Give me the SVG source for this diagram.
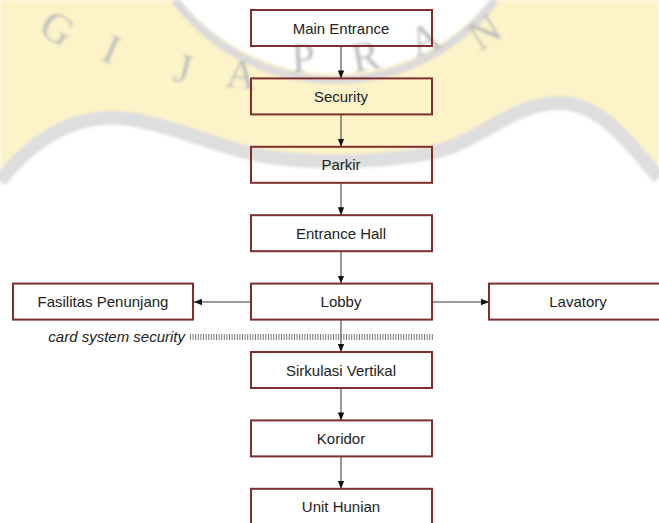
<svg xmlns="http://www.w3.org/2000/svg" width="659" height="523" viewBox="0 0 659 523">
  <style>
    .box { fill: none; stroke: #7f2e2e; stroke-width: 2; }
    .lbl { font-family: "Liberation Sans", Arial, sans-serif; font-size: 15px; fill: #222; text-anchor: middle; }
    .note { font-family: "Liberation Sans", Arial, sans-serif; font-size: 15px; font-style: italic; fill: #222; }
    .wire { stroke: #333; stroke-width: 1; fill: none; }
    .wm { font-family: "Liberation Serif", "Times New Roman", serif; font-size: 42px; fill: #bdbdbd; text-anchor: middle; }
  </style>
  <defs>
    <marker id="arrow" viewBox="0 0 10 10" refX="10" refY="5" markerWidth="8" markerHeight="8" markerUnits="userSpaceOnUse" orient="auto">
      <path d="M0,1 L10,5 L0,9 Z" fill="#111"/>
    </marker>
    <filter id="soft" x="-5%" y="-5%" width="110%" height="110%">
      <feGaussianBlur stdDeviation="1.5"/>
    </filter>
  </defs>

  <rect width="659" height="523" fill="#fff"/>

  <!-- background emblem -->
  <g id="emblem" filter="url(#soft)">
    <path d="M0,0 L180,0 A200,200 0 0 0 490,0 L659,0 L659,175 C630,140 600,100 560,100 C510,100 480,140 430,150 C380,160 300,162 250,150 C200,138 160,118 120,115 C70,112 30,140 0,178 Z" fill="#fcf3c8"/>
    <path d="M175,0 A200,200 0 0 0 495,0" fill="none" stroke="#dadada" stroke-width="8"/>
    <path d="M659,178 C630,143 600,103 560,103 C510,103 480,143 430,153 C380,163 300,165 250,153 C200,141 160,121 120,118 C70,115 30,143 0,181" fill="none" stroke="#dedede" stroke-width="14"/>
    <text class="wm" transform="translate(50,40) rotate(32)">G</text>
    <text class="wm" transform="translate(106,62) rotate(24)">I</text>
    <text class="wm" transform="translate(180,82) rotate(14)">J</text>
    <text class="wm" transform="translate(240,88) rotate(5)">A</text>
    <text class="wm" transform="translate(304,72) rotate(-3)">P</text>
    <text class="wm" transform="translate(368,70) rotate(-10)">R</text>
    <text class="wm" transform="translate(430,52) rotate(-22)">A</text>
    <text class="wm" transform="translate(492,44) rotate(-32)">N</text>
  </g>

  <!-- connectors -->
  <g id="connectors">
    <line class="wire" x1="341" y1="46" x2="341" y2="78.4" marker-end="url(#arrow)"/>
    <line class="wire" x1="341" y1="114.4" x2="341" y2="146.8" marker-end="url(#arrow)"/>
    <line class="wire" x1="341" y1="182.8" x2="341" y2="215.2" marker-end="url(#arrow)"/>
    <line class="wire" x1="341" y1="251.2" x2="341" y2="283.6" marker-end="url(#arrow)"/>
    <line class="wire" x1="341" y1="319.6" x2="341" y2="352" marker-end="url(#arrow)"/>
    <line class="wire" x1="341" y1="388" x2="341" y2="420.4" marker-end="url(#arrow)"/>
    <line class="wire" x1="341" y1="456.4" x2="341" y2="488.8" marker-end="url(#arrow)"/>
    <line class="wire" x1="251" y1="302" x2="194" y2="302" marker-end="url(#arrow)"/>
    <line class="wire" x1="432" y1="302" x2="489" y2="302" marker-end="url(#arrow)"/>
  </g>

  <!-- security boundary -->
  <g id="card-security">
    <line x1="190" y1="337" x2="433" y2="337" stroke="#777" stroke-width="6" stroke-dasharray="1 1.6"/>
    <text class="note" x="185" y="342" text-anchor="end">card system security</text>
  </g>

  <g id="main-entrance">
    <rect class="box" x="251" y="10" width="181" height="36"/>
    <text class="lbl" x="341" y="33.5">Main Entrance</text>
  </g>
  <g id="security">
    <rect class="box" x="251" y="78.4" width="181" height="36"/>
    <text class="lbl" x="341" y="101.9">Security</text>
  </g>
  <g id="parkir">
    <rect class="box" x="251" y="146.8" width="181" height="36"/>
    <text class="lbl" x="341" y="170.3">Parkir</text>
  </g>
  <g id="entrance-hall">
    <rect class="box" x="251" y="215.2" width="181" height="36"/>
    <text class="lbl" x="341" y="238.7">Entrance Hall</text>
  </g>
  <g id="lobby">
    <rect class="box" x="251" y="283.6" width="181" height="36"/>
    <text class="lbl" x="341" y="307.1">Lobby</text>
  </g>
  <g id="fasilitas-penunjang">
    <rect class="box" x="13" y="283.6" width="180" height="36"/>
    <text class="lbl" x="103" y="307.1">Fasilitas Penunjang</text>
  </g>
  <g id="lavatory">
    <rect class="box" x="489" y="283.6" width="190" height="36"/>
    <text class="lbl" x="578" y="307.1">Lavatory</text>
  </g>
  <g id="sirkulasi-vertikal">
    <rect class="box" x="251" y="352" width="181" height="36"/>
    <text class="lbl" x="341" y="375.5">Sirkulasi Vertikal</text>
  </g>
  <g id="koridor">
    <rect class="box" x="251" y="420.4" width="181" height="36"/>
    <text class="lbl" x="341" y="443.9">Koridor</text>
  </g>
  <g id="unit-hunian">
    <rect class="box" x="251" y="488.8" width="181" height="40"/>
    <text class="lbl" x="341" y="512.3">Unit Hunian</text>
  </g>
</svg>
